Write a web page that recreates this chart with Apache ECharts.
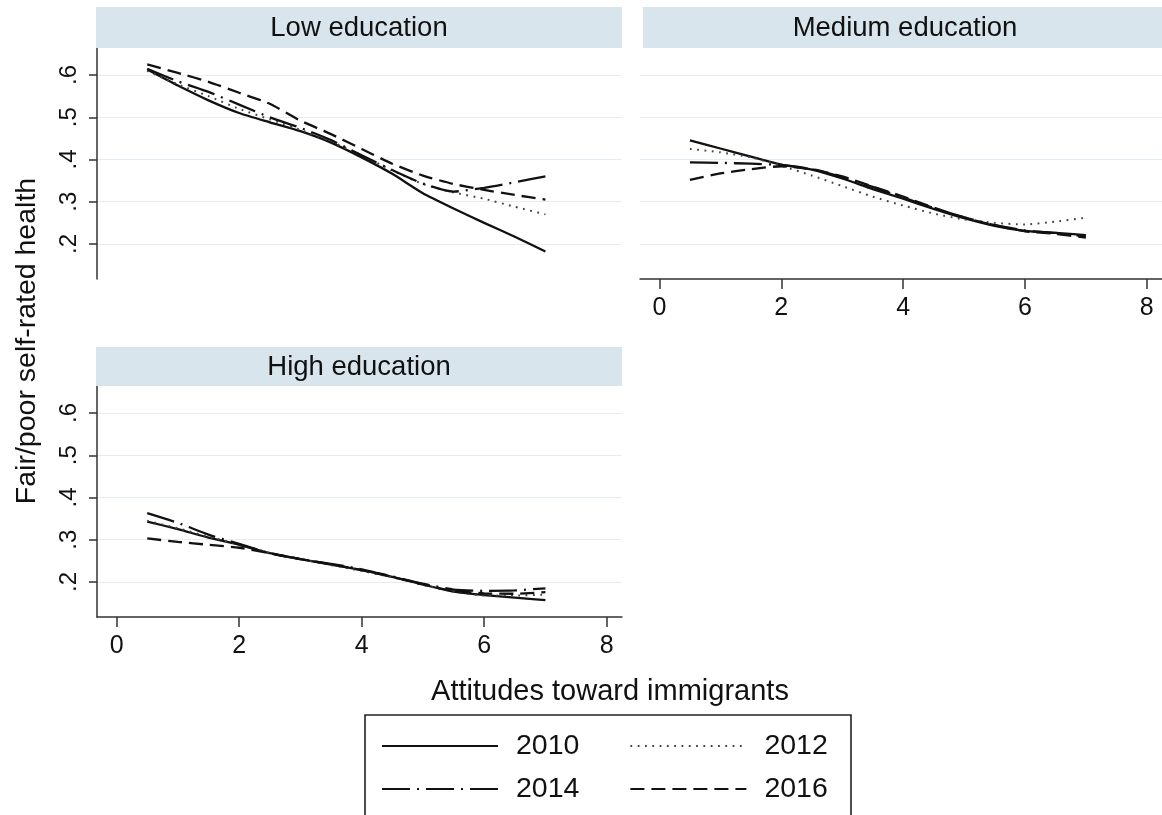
<!DOCTYPE html>
<html>
<head>
<meta charset="utf-8">
<script src="https://cdn.jsdelivr.net/npm/echarts@6/dist/echarts.min.js"></script>
<style>
html,body{margin:0;padding:0;background:#fff;}
#chart{width:1162px;height:815px;}
</style>
</head>
<body>
<div id="chart"></div>
<script>
// ---------- data ----------
const panels = ['Low education', 'Medium education', 'High education'];
const years = ['2010', '2012', '2014', '2016'];
const xs = [0.5, 1, 1.5, 2, 2.5, 3, 3.5, 4, 4.5, 5, 5.5, 6, 6.5, 7];
const xTicks = [0, 2, 4, 6, 8];
const yTicks = [0.2, 0.3, 0.4, 0.5, 0.6];

const low2010 = [0.613, 0.575, 0.540, 0.510, 0.488, 0.467, 0.440, 0.405, 0.366, 0.320, 0.284, 0.250, 0.217, 0.182];
const low2012 = [0.610, 0.578, 0.550, 0.520, 0.495, 0.470, 0.443, 0.410, 0.374, 0.342, 0.322, 0.307, 0.288, 0.270];
const low2014 = [0.615, 0.585, 0.560, 0.530, 0.500, 0.475, 0.446, 0.410, 0.375, 0.343, 0.324, 0.333, 0.346, 0.360];
const low2016 = [0.625, 0.605, 0.584, 0.558, 0.532, 0.492, 0.460, 0.425, 0.390, 0.362, 0.342, 0.328, 0.316, 0.305];

const med2010 = [0.445, 0.426, 0.407, 0.388, 0.376, 0.355, 0.330, 0.307, 0.283, 0.261, 0.243, 0.231, 0.226, 0.221];
const med2012 = [0.425, 0.417, 0.405, 0.385, 0.362, 0.337, 0.312, 0.291, 0.272, 0.258, 0.250, 0.246, 0.253, 0.262];
const med2014 = [0.393, 0.392, 0.390, 0.387, 0.377, 0.358, 0.335, 0.310, 0.285, 0.263, 0.245, 0.232, 0.226, 0.218];
const med2016 = [0.352, 0.367, 0.377, 0.384, 0.377, 0.360, 0.336, 0.312, 0.286, 0.263, 0.244, 0.230, 0.224, 0.215];

const high2010 = [0.343, 0.325, 0.305, 0.288, 0.268, 0.254, 0.241, 0.228, 0.212, 0.194, 0.177, 0.169, 0.163, 0.157];
const high2012 = [0.345, 0.327, 0.307, 0.289, 0.269, 0.254, 0.240, 0.226, 0.211, 0.193, 0.177, 0.168, 0.168, 0.170];
const high2014 = [0.363, 0.340, 0.312, 0.290, 0.268, 0.254, 0.243, 0.230, 0.213, 0.196, 0.182, 0.179, 0.180, 0.185];
const high2016 = [0.303, 0.295, 0.288, 0.281, 0.268, 0.254, 0.242, 0.228, 0.212, 0.194, 0.179, 0.173, 0.172, 0.176];

const yTitle = 'Fair/poor self-rated health';
const xTitle = 'Attitudes toward immigrants';

// ---------- styling ----------
const FONT = '"Liberation Sans", Arial, Helvetica, sans-serif';
const INK = '#111';
const BAND = '#d9e5ec';
const GRID = '#e4edf3';
const lineStyles = {
  '2010': { color: INK, width: 2.3, type: 'solid' },
  '2012': { color: '#444', width: 2, type: [1.8, 5.5] },
  '2014': { color: INK, width: 2.3, type: [28, 7, 2, 7] },
  '2016': { color: INK, width: 2.3, type: [14, 7] }
};
const panelData = [
  [low2010, low2012, low2014, low2016],
  [med2010, med2012, med2014, med2016],
  [high2010, high2012, high2014, high2016]
];

const X_MIN = -0.32, X_MAX = 8.25, Y_MIN = 0.117, Y_MAX = 0.664;
const grids = [
  { left: 97, top: 48, width: 525, height: 231 },
  { left: 640, top: 48, width: 525, height: 231 },
  { left: 97, top: 386, width: 525, height: 231 }
];
const showX = [false, true, true];
const showY = [true, false, true];

const fmtY = v => String(Math.round(v * 10) / 10).replace(/^0/, '');

const xAxes = grids.map((g, i) => ({
  type: 'value', gridIndex: i, min: X_MIN, max: X_MAX,
  axisLine: { show: showX[i], onZero: false, lineStyle: { color: '#333', width: 1.5 } },
  axisTick: { show: showX[i], length: 10, customValues: xTicks, lineStyle: { color: '#333', width: 1.5 } },
  axisLabel: { show: showX[i], customValues: xTicks, fontSize: 25, color: INK, fontFamily: FONT, margin: 17 },
  splitLine: { show: false }
}));
const yAxes = grids.map((g, i) => ({
  type: 'value', gridIndex: i, min: Y_MIN, max: Y_MAX,
  axisLine: { show: showY[i], onZero: false, lineStyle: { color: '#333', width: 1.5 } },
  axisTick: { show: showY[i], length: 8, customValues: yTicks, lineStyle: { color: '#333', width: 1.5 } },
  axisLabel: { show: showY[i], customValues: yTicks, rotate: 90, fontSize: 24, color: INK, fontFamily: FONT, margin: 16, formatter: fmtY },
  splitLine: { show: true, lineStyle: { color: GRID, width: 1.2 } }
}));

const series = [];
panelData.forEach((arrs, p) => {
  arrs.forEach((arr, k) => {
    const yr = years[k];
    series.push({
      name: yr, type: 'line', xAxisIndex: p, yAxisIndex: p,
      showSymbol: false, symbol: 'none', smooth: 0.2,
      lineStyle: lineStyles[yr],
      itemStyle: { color: lineStyles[yr].color },
      data: xs.map((x, i) => [x, arr[i]]),
      z: 3 + k
    });
  });
});

const headerBoxes = [
  { x: 96, y: 7, w: 526, h: 41 },
  { x: 643, y: 7, w: 530, h: 41 },
  { x: 96, y: 347, w: 526, h: 39 }
];
const graphics = [];
headerBoxes.forEach((b, i) => {
  graphics.push({ type: 'rect', shape: { x: b.x, y: b.y, width: b.w, height: b.h }, style: { fill: BAND }, z: 1 });
  graphics.push({ type: 'text', x: b.x + b.w / 2 - (i === 1 ? 3 : 0), y: b.y + b.h / 2 + 1,
    style: { text: panels[i], fontSize: 27.5, fontFamily: FONT, fill: INK, textAlign: 'center', textVerticalAlign: 'middle' }, z: 2 });
});
graphics.push({ type: 'text', x: 27, y: 341, rotation: Math.PI / 2,
  style: { text: yTitle, fontSize: 28.5, fontFamily: FONT, fill: INK, textAlign: 'center', textVerticalAlign: 'middle' } });
graphics.push({ type: 'text', x: 610, y: 692,
  style: { text: xTitle, fontSize: 29, fontFamily: FONT, fill: INK, textAlign: 'center', textVerticalAlign: 'middle' } });
graphics.push({ type: 'rect', shape: { x: 365, y: 715, width: 486, height: 130 },
  style: { fill: 'none', stroke: '#222', lineWidth: 1.6 } });

const legendBase = {
  orient: 'horizontal', left: 381, padding: 0, itemWidth: 116, itemHeight: 14, itemGap: 50,
  itemStyle: { opacity: 0, borderWidth: 0 },
  textStyle: { fontSize: 28.5, fontFamily: FONT, color: INK, padding: [0, 0, 0, 13], lineHeight: 30 },
  selectedMode: false
};

const option = {
  animation: false,
  backgroundColor: '#fff',
  grid: grids.map(g => Object.assign({ containLabel: false }, g)),
  xAxis: xAxes,
  yAxis: yAxes,
  series: series,
  legend: [
    Object.assign({}, legendBase, { top: 731, data: ['2010', '2012'] }),
    Object.assign({}, legendBase, { top: 774, data: ['2014', '2016'] })
  ],
  graphic: graphics
};

const chart = echarts.init(document.getElementById('chart'), null, { renderer: 'canvas' });
chart.setOption(option);
</script>
</body>
</html>
